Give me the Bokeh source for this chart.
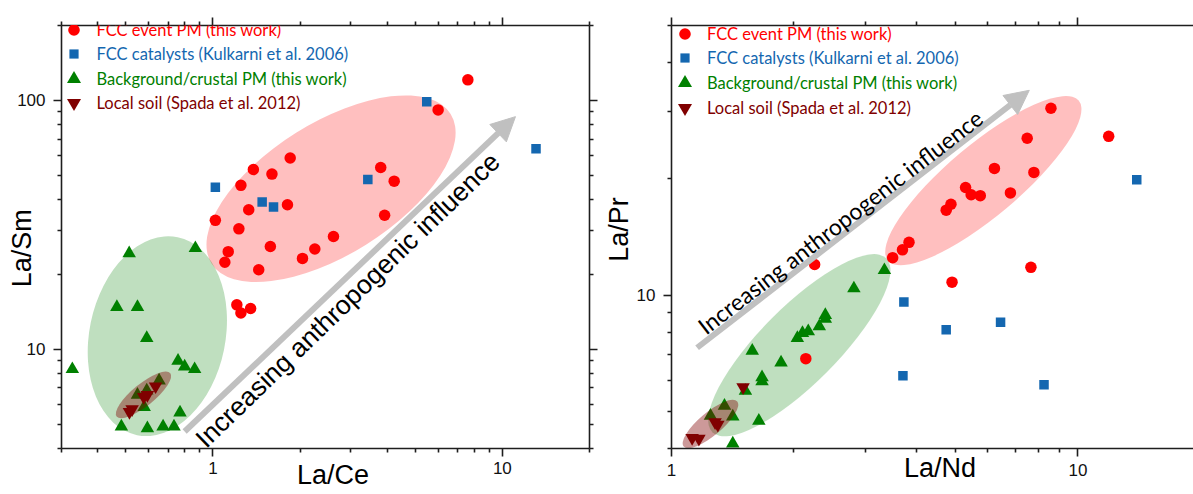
import math
from bokeh.plotting import figure
from bokeh.layouts import row
from bokeh.models import (LogAxis, FixedTicker, CustomJSTickFormatter, Legend, LegendItem,
                          Label, Arrow, NormalHead, Range1d)
from bokeh.embed import file_html
from bokeh.resources import INLINE

# ---------------- Left panel: La/Ce vs La/Sm ----------------
fcc_pm_lace = [7.60, 6.00, 1.85, 1.38, 1.60, 1.25, 3.80, 4.23, 1.81, 1.33, 3.92, 1.02,
               1.23, 2.61, 1.13, 1.58, 2.25, 1.10, 2.04, 1.44, 1.21, 1.25, 1.35]
fcc_pm_lasm = [121, 91.6, 58.7, 52.8, 50.6, 45.6, 53.8, 47.4, 38.1, 36.4, 34.6, 33.0,
               30.5, 28.4, 24.7, 25.9, 25.3, 22.4, 23.2, 20.9, 15.1, 14.0, 14.6]
cat_lace = [5.48, 13.07, 1.02, 3.43, 1.48, 1.62]
cat_lasm = [98.9, 64.0, 44.8, 48.1, 39.1, 37.3]
bg_lace = [0.514, 0.870, 0.466, 0.549, 0.591, 0.327, 0.758, 0.799, 0.865, 0.652,
           0.549, 0.579, 0.770, 0.483, 0.594, 0.673, 0.734, 0.591]
bg_lasm = [24.3, 25.5, 14.8, 14.8, 11.1, 8.33, 9.0, 8.54, 8.33, 7.50,
           6.57, 5.87, 5.58, 4.90, 4.82, 4.90, 4.90, 6.84]
soil_lace = [0.515, 0.526, 0.577, 0.594, 0.634]
soil_lasm = [5.61, 5.75, 6.44, 6.57, 7.11]

# ---------------- Right panel: La/Nd vs La/Pr ----------------
fcc_pm_land = [8.58, 11.9, 7.50, 6.23, 7.79, 5.29, 5.46, 5.75, 6.82, 4.87, 4.74, 3.84,
               3.70, 3.50, 2.25, 7.66, 4.90, 2.14]
fcc_pm_lapr = [30.5, 25.8, 25.5, 21.3, 20.8, 19.0, 18.2, 18.1, 18.4, 17.2, 16.6, 13.7,
               13.1, 12.5, 12.0, 11.8, 10.8, 6.84]
cat_land = [13.95, 3.73, 4.74, 6.45, 3.71, 8.25]
cat_lapr = [19.9, 9.60, 8.13, 8.50, 6.18, 5.85]
bg_land = [3.34, 2.81, 2.39, 2.39, 2.31, 2.17, 2.10, 2.04, 1.58, 1.86, 1.67, 1.67,
           1.52, 1.64, 1.415, 1.35, 1.247, 1.415]
bg_lapr = [11.6, 10.4, 8.87, 8.67, 8.30, 8.05, 7.97, 7.73, 7.17, 6.68, 6.12, 5.97,
           5.64, 4.72, 4.84, 5.16, 4.86, 4.12]
soil_land = [1.50, 1.28, 1.30, 1.124, 1.168]
soil_lapr = [5.77, 4.68, 4.61, 4.26, 4.24]

# ---------------- Labels / ticks ----------------
series_labels = ["FCC event PM (this work)", "FCC catalysts (Kulkarni et al. 2006)",
                 "Background/crustal PM (this work)", "Local soil (Spada et al. 2012)"]
annotation_text = "Increasing anthropogenic influence"
NB = "\u00A0"
left_x_title, left_y_title = "La/Ce", "La/Sm"
right_x_title, right_y_title = "La/Nd", "La/Pr"

left_x_major = [1, 10]
left_x_minor = [0.3, 0.4, 0.5, 0.6, 0.7, 0.8, 0.9, 2, 3, 4, 5, 6, 7, 8, 9, 20]
left_y_major = [10, 100]
left_y_minor = [4, 5, 6, 7, 8, 9, 20, 30, 40, 50, 60, 70, 80, 90, 200]
right_x_major = [1, 10]
right_x_minor = [2, 3, 4, 5, 6, 7, 8, 9]
right_y_major = [10]
right_y_minor = [4, 5, 6, 7, 8, 9, 20, 30, 40, 50]

# grouping ellipses: center (data), width/height (px), angle (deg)
left_ellipses = [  # red, green, brown
    (2.56, 44.2, 282, 132, 32.0),
    (0.643, 11.3, 202, 136, 78.4),
    (0.576, 6.57, 69, 22, 39.0),
]
right_ellipses = [
    (5.85, 19.8, 249, 72, 40.0),
    (2.063, 7.41, 246, 77, 45.0),
    (1.247, 4.63, 70, 23, 40.0),
]
left_arrow = (0.799, 4.68, 11.1, 86.1)
right_arrow = (1.156, 7.30, 7.59, 33.96)

RED = "#FF0000"
BLUE = "#1467B0"
GREEN = "#008000"
BROWN = "#800000"
GRAY = "#C0C0C0"
AX = "#1E1E1E"
colors = [RED, BLUE, GREEN, BROWN]


def style_axis(ax, major, minor, labels=True, standoff=8):
    ax.ticker = FixedTicker(ticks=major, minor_ticks=minor)
    ax.formatter = CustomJSTickFormatter(code="return tick.toString();" if labels else "return '';")
    ax.axis_line_color = AX
    ax.axis_line_width = 1.6
    ax.major_tick_line_color = AX
    ax.major_tick_line_width = 1.6
    ax.minor_tick_line_color = AX
    ax.minor_tick_line_width = 1.6
    ax.major_tick_in = 0
    ax.major_tick_out = 8
    ax.minor_tick_in = 0
    ax.minor_tick_out = 4
    ax.major_label_text_font = "Liberation Sans"
    ax.major_label_text_color = "#111111"
    ax.major_label_standoff = standoff if labels else 0
    ax.major_label_text_font_size = "17px" if labels else "0px"


def set_title(ax, text, standoff):
    ax.axis_label = text
    ax.axis_label_text_font = "Liberation Sans"
    ax.axis_label_text_font_size = "27px"
    ax.axis_label_text_font_style = "normal"
    ax.axis_label_text_color = "black"
    ax.axis_label_standoff = standoff


def make_panel(width, xr, yr, mb, xmaj, xmin, ymaj, ymin, box, xstand):
    p = figure(width=width, height=494, x_axis_type="log", y_axis_type="log",
               x_range=Range1d(*xr), y_range=Range1d(*yr),
               output_backend="svg", toolbar_location=None,
               min_border_left=mb[0], min_border_right=mb[1],
               min_border_top=mb[2], min_border_bottom=mb[3])
    p.grid.visible = False
    p.outline_line_color = None
    p.background_fill_color = "white"
    p.border_fill_color = "white"
    bottom = p.below[0]
    left = p.left[0]
    style_axis(bottom, xmaj, xmin, True, xstand)
    style_axis(left, ymaj, ymin, True, 8)
    top = LogAxis()
    style_axis(top, xmaj, xmin, False)
    p.add_layout(top, "above")
    if box:
        right = LogAxis()
        style_axis(right, ymaj, ymin, False)
        p.add_layout(right, "right")
    return p, bottom, left


def add_ellipse(p, e, color, alpha):
    cx, cy, w, h, ang = e
    p.ellipse(x=[cx], y=[cy], width=[w], height=[h], angle=[math.radians(ang)],
              width_units="screen", height_units="screen",
              fill_color=color, fill_alpha=alpha, line_color=None)


def add_points(p, xs, ys):
    specs = [("circle", 11.5), ("square", 9.5), ("triangle", 13.5), ("inverted_triangle", 13.5)]
    rs = []
    for x, y, (m, s), c in zip(xs, ys, specs, colors):
        rs.append(p.scatter(x, y, marker=m, size=s, fill_color=c, line_color=None))
    return rs


def add_legends(p, rs, frame_h, cx_rel, rows_rel_top, label_rel):
    # marker keys: Bokeh legend glyph size = 0.4 * glyph box
    gsizes = [29, 23, 35, 35]
    for r, lab, c, g, rt in zip(rs, series_labels, colors, gsizes, rows_rel_top):
        leg = Legend(items=[LegendItem(label=" ", renderers=[r])],
                     location=(cx_rel - g / 2, frame_h - rt - g / 2),
                     padding=0, spacing=0, margin=0,
                     glyph_width=g, glyph_height=g, label_standoff=0,
                     label_text_font_size="1px", label_width=1, label_height=1,
                     background_fill_alpha=0, border_line_alpha=0)
        p.add_layout(leg)
        p.add_layout(Label(x=label_rel, y=frame_h - rt, x_units="screen", y_units="screen",
                           text=lab, text_font="Lato", text_font_size="16.5px",
                           text_color=c, text_align="left", text_baseline="middle"))


def add_arrow(p, a, text_pos, angle, font, size):
    p.add_layout(Arrow(end=NormalHead(size=24, fill_color=GRAY, line_color=GRAY, line_width=1),
                       x_start=a[0], y_start=a[1], x_end=a[2], y_end=a[3],
                       line_color=GRAY, line_width=6))
    p.add_layout(Label(x=text_pos[0], y=text_pos[1], text=annotation_text,
                       angle=math.radians(angle), text_font=font, text_font_size=size,
                       text_align="left", text_baseline="alphabetic", text_color="black"))


# ---- left
p1, b1, l1 = make_panel(600, (0.3, 20), (4, 200), (61, 11, 18, 46),
                        left_x_major, left_x_minor, left_y_major, left_y_minor, True, 5)
add_ellipse(p1, left_ellipses[0], RED, 0.25)
add_ellipse(p1, left_ellipses[1], GREEN, 0.25)
r1 = add_points(p1, [fcc_pm_lace, cat_lace, bg_lace, soil_lace],
                [fcc_pm_lasm, cat_lasm, bg_lasm, soil_lasm])
add_ellipse(p1, left_ellipses[2], BROWN, 0.4)
add_arrow(p1, left_arrow, (0.902, 4.22), 44.0, "Liberation Sans", "26.5px")
add_legends(p1, r1, 430, 12, [11, 35, 60, 84.4], 35)
set_title(b1, NB * 2 + left_x_title, -17)
set_title(l1, left_y_title + NB * 3, -23)

# ---- right
p2, b2, l2 = make_panel(593, (1, 19.24), (4, 50), (69, 0, 25, 39),
                        right_x_major, right_x_minor, right_y_major, right_y_minor, False, 7)
add_ellipse(p2, right_ellipses[0], RED, 0.25)
add_ellipse(p2, right_ellipses[1], GREEN, 0.25)
r2 = add_points(p2, [fcc_pm_land, cat_land, bg_land, soil_land],
                [fcc_pm_lapr, cat_lapr, bg_lapr, soil_lapr])
add_ellipse(p2, right_ellipses[2], BROWN, 0.4)
add_arrow(p2, right_arrow, (1.18, 8.18), 37.5, "Lato", "23px")
add_legends(p2, r2, 430, 13, [15, 39, 64.3, 89], 35.5)
set_title(b2, NB * 2 + right_x_title, -26)
set_title(l2, NB * 2 + right_y_title, 0)

layout = row(p1, p2)
open("out.html", "w").write(file_html(layout, INLINE))
